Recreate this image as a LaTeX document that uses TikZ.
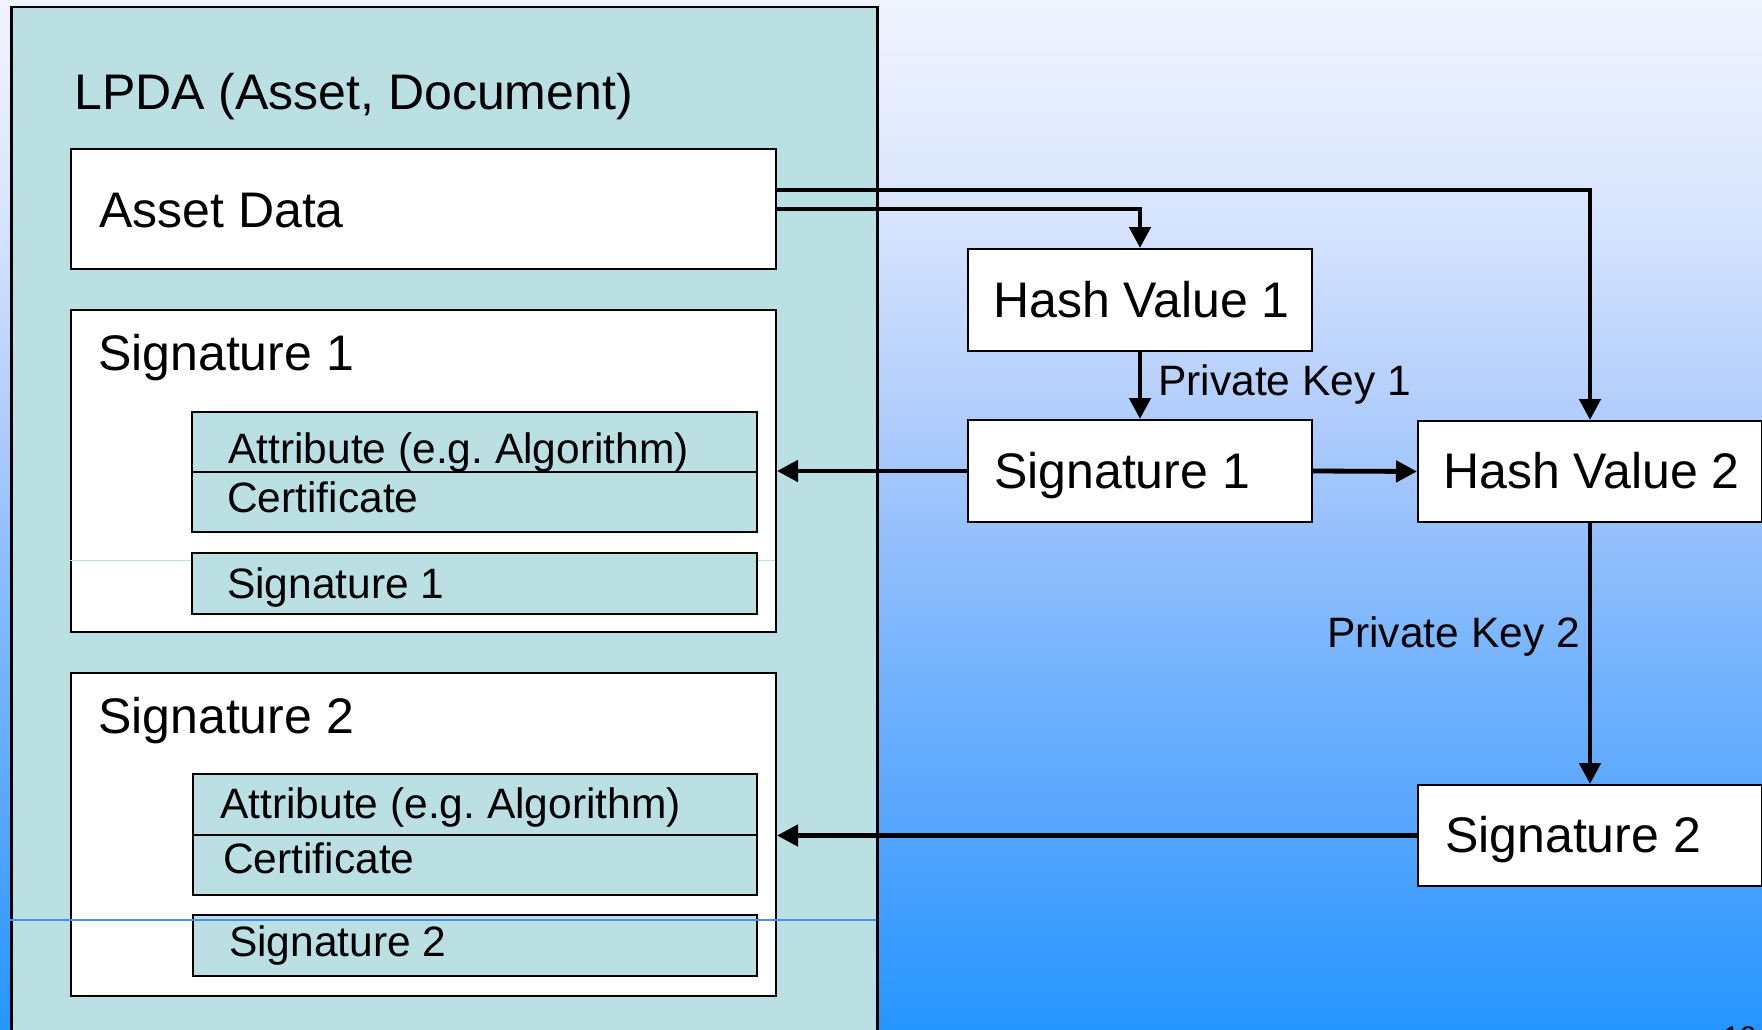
\documentclass[tikz,border=0pt]{standalone}
\usepackage{fontspec}
\setmainfont{Liberation Sans}
\usetikzlibrary{arrows.meta}
\frenchspacing
\definecolor{lpdateal}{RGB}{186,224,227}
\definecolor{thinblue}{RGB}{70,145,230}
\definecolor{gA}{RGB}{240,244,255}
\definecolor{gB}{RGB}{218,230,254}
\definecolor{gC}{RGB}{180,207,252}
\definecolor{gD}{RGB}{145,190,252}
\definecolor{gE}{RGB}{110,177,254}
\definecolor{gF}{RGB}{92,168,254}
\definecolor{gG}{RGB}{62,157,255}
\definecolor{gH}{RGB}{36,150,255}
\begin{document}
\begin{tikzpicture}[x=1pt,y=-1pt,
  wbox/.style={draw=black,line width=2pt,fill=white,inner sep=0pt,anchor=north west},
  tbox/.style={draw=black,line width=2pt,fill=lpdateal,inner sep=0pt,anchor=north west},
  conn/.style={line width=4.8pt,-{Triangle[length=21pt,width=21pt]}},
  bigtxt/.style={font=\fontsize{50}{60}\selectfont,inner sep=0pt,anchor=base west},
  smalltxt/.style={font=\fontsize{42.5}{50}\selectfont,inner sep=0pt,anchor=base west}]
\useasboundingbox (0,0) rectangle (1762,1030);
\clip (0,0) rectangle (1762,1030);
% background gradient
\shade[top color=gA,bottom color=gB] (0,-1) rectangle (1762,200.5);
\shade[top color=gB,bottom color=gC] (0,199.5) rectangle (1762,400.5);
\shade[top color=gC,bottom color=gD] (0,399.5) rectangle (1762,550.5);
\shade[top color=gD,bottom color=gE] (0,549.5) rectangle (1762,700.5);
\shade[top color=gE,bottom color=gF] (0,699.5) rectangle (1762,800.5);
\shade[top color=gF,bottom color=gG] (0,799.5) rectangle (1762,920.5);
\shade[top color=gG,bottom color=gH] (0,919.5) rectangle (1762,1031);
% LPDA container
\node[tbox,line width=2.5pt,minimum width=866pt,minimum height=1100pt] (lpda) at (10,6) {};
\node[bigtxt] (tlpda) at (74,110) {LPDA (Asset, Document)};
\node[wbox,minimum width=705pt,minimum height=120pt] (ad) at (70,148) {};
\node[bigtxt] (tad) at (99,227) {Asset Data};
% Signature 1 block
\node[wbox,minimum width=705pt,minimum height=322pt] (sb1) at (70,309) {};
\draw[lpdateal,line width=1pt] (70,560) -- (775,560);
\node[bigtxt] (tsb1) at (98,370) {Signature 1};
\node[tbox,minimum width=565pt,minimum height=120pt] (attr1) at (191,411) {};
\draw[line width=2pt] (attr1.west) -- (attr1.east);
\node[smalltxt] (tattr1) at (228,463) {Attribute (e.g. Algorithm)};
\node[smalltxt] (tcert1) at (227,512) {Certificate};
\node[tbox,minimum width=565pt,minimum height=61pt] (sig1in) at (191,552) {};
\node[smalltxt] (tsig1in) at (227,598) {Signature 1};
% Signature 2 block
\node[wbox,minimum width=705pt,minimum height=323pt] (sb2) at (70,672) {};
\node[bigtxt] (tsb2) at (98,733) {Signature 2};
\node[tbox,minimum width=564pt,minimum height=121pt] (attr2) at (192,773) {};
\draw[line width=2pt] (attr2.west) -- (attr2.east);
\node[smalltxt] (tattr2) at (220,818) {Attribute (e.g. Algorithm)};
\node[smalltxt] (tcert2) at (223,873) {Certificate};
\node[tbox,minimum width=564pt,minimum height=61pt] (sig2in) at (192,914) {};
\node[smalltxt] (tsig2in) at (229,956) {Signature 2};
\draw[thinblue,line width=1.5pt] (10,920) -- (876,920);
% right side
\node[wbox,minimum width=344pt,minimum height=102pt] (hv1) at (967,248) {};
\node[bigtxt] (thv1) at (993,317) {Hash Value 1};
\node[wbox,minimum width=344pt,minimum height=102pt] (s1r) at (967,419) {};
\node[bigtxt] (ts1r) at (994,488) {Signature 1};
\node[wbox,minimum width=344pt,minimum height=101pt] (hv2) at (1417,420) {};
\node[bigtxt] (thv2) at (1443,488) {Hash Value 2};
\node[wbox,minimum width=344pt,minimum height=101pt] (s2r) at (1417,784) {};
\node[bigtxt] (ts2r) at (1445,852) {Signature 2};
\node[smalltxt] (tpk1) at (1158,395) {Private Key 1};
\node[smalltxt,anchor=base east] (tpk2) at (1580,647) {Private Key 2};
\node[font=\fontsize{30}{36}\selectfont,inner sep=0pt,anchor=base west] (pnum) at (1723,1047) {10};
% connectors
\draw[conn] ([yshift=19pt]ad.east) -| (hv2.north);
\draw[conn] (ad.east) -| (hv1.north);
\draw[conn] (hv1.south) -- (s1r.north);
\draw[conn] (s1r.west) -- (sb1.east);
\draw[conn] (s1r.east) -- (hv2.west);
\draw[conn] (hv2.south) -- (s2r.north);
\draw[conn] (s2r.west) -- (s2r.west -| sb2.east);
\end{tikzpicture}
\end{document}
